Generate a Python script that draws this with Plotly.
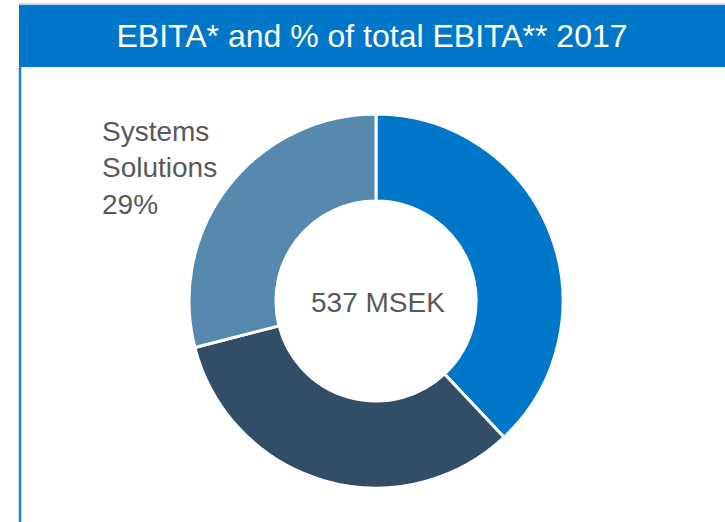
import plotly.graph_objects as go

# Data
segments = ["Segment 1", "Segment 2", "Systems Solutions"]
shares = [38, 33, 29]
colors = ["#0077C8", "#324E66", "#5689AD"]
title_text = "EBITA* and % of total EBITA** 2017"
center_text = "537 MSEK"
label_text = "Systems<br>Solutions<br>29%"

W, H = 725, 522
cx, cy, R = 376, 301, 187

fig = go.Figure()
fig.add_trace(go.Pie(
    labels=segments,
    values=shares,
    sort=False,
    direction="clockwise",
    rotation=0,
    hole=0.535,
    marker=dict(colors=colors, line=dict(color="white", width=3)),
    textinfo="none",
    hoverinfo="label+percent",
    showlegend=False,
    domain=dict(x=[(cx - R) / W, (cx + R) / W], y=[(H - cy - R) / H, (H - cy + R) / H]),
))

# left border line
fig.add_shape(type="line", xref="paper", yref="paper",
              x0=20 / W, x1=20 / W, y0=0, y1=1 - 67 / H,
              line=dict(color="#1E86D0", width=2.5))
# light line at top of title bar
fig.add_shape(type="line", xref="paper", yref="paper",
              x0=19 / W, x1=1, y0=1 - 4 / H, y1=1 - 4 / H,
              line=dict(color="#A9CBE4", width=1.5))

fig.add_annotation(text=center_text, xref="paper", yref="paper",
                   x=378 / W, y=1 - 302 / H, xanchor="center", yanchor="middle",
                   showarrow=False, font=dict(size=28, color="#595959",
                                              family="Liberation Sans, Arial, sans-serif"))
fig.add_annotation(text=label_text, xref="paper", yref="paper",
                   x=100 / W, y=1 - 114 / H, xanchor="left", yanchor="top", align="left",
                   showarrow=False, font=dict(size=28, color="#595959",
                                              family="Liberation Sans, Arial, sans-serif"))
# title bar
fig.add_annotation(text=title_text, xref="paper", yref="paper",
                   x=(19 + W) / 2 / W, y=1 - (5 + 67) / 2 / H,
                   xanchor="center", yanchor="middle",
                   width=W - 19, height=62, bgcolor="#0077C8",
                   borderpad=0, borderwidth=0, showarrow=False,
                   font=dict(size=32, color="white",
                             family="Liberation Sans, Arial, sans-serif"))

fig.update_layout(width=W, height=H, margin=dict(l=0, r=0, t=0, b=0),
                  paper_bgcolor="white", plot_bgcolor="white")

fig.write_html("out.html", config={"displayModeBar": False},
               post_script="document.body.style.margin='0';document.body.style.overflow='hidden';")
